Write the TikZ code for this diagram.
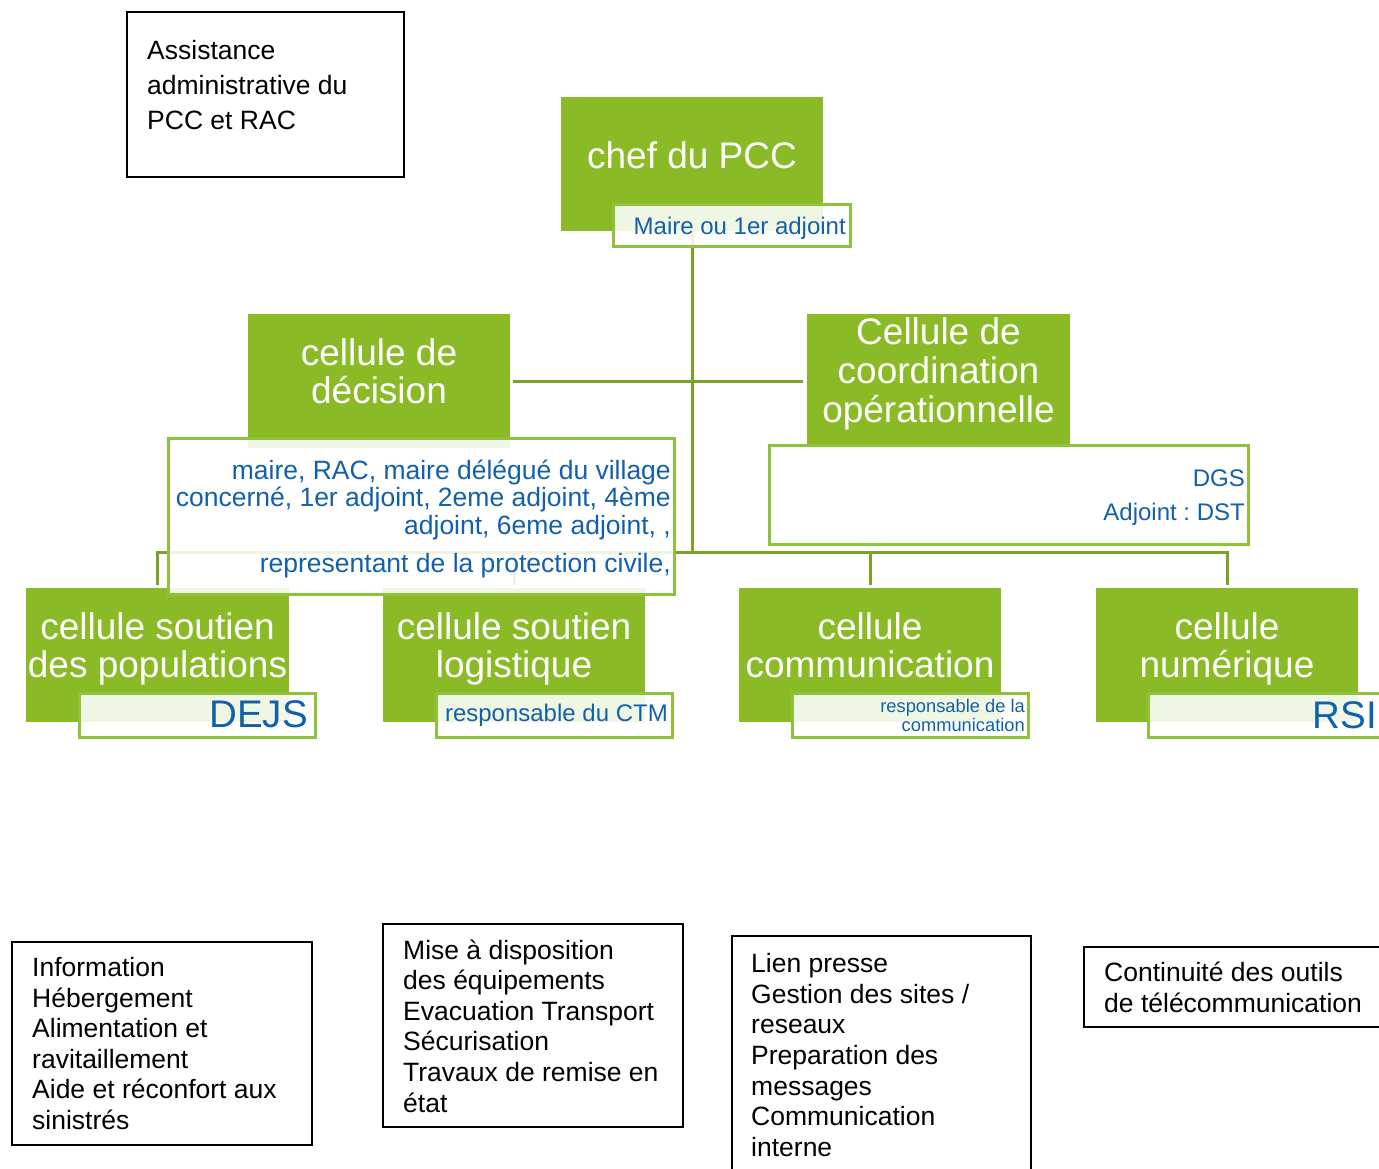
\documentclass[tikz,border=0pt]{standalone}
\usepackage{fontspec}
\setmainfont{Liberation Sans}
\frenchspacing
\definecolor{pccgreen}{RGB}{138,187,38}
\definecolor{conngreen}{RGB}{120,162,40}
\definecolor{lblgreen}{RGB}{141,194,58}
\definecolor{lblblue}{RGB}{17,96,172}
\tikzset{
  blk/.style={fill=pccgreen, inner sep=0, minimum width=262, minimum height=134},
  wtext/.style={text=white, align=center, inner sep=0, font=\fontsize{37}{38}\selectfont},
  lbl/.style={draw=lblgreen, line width=3, fill=white, fill opacity=0.88, inner sep=0},
  btext/.style={text=lblblue, align=right, inner sep=0, anchor=east},
  conn/.style={draw=conngreen, line width=3},
  bbox/.style={draw=black, line width=2, fill=white, inner sep=0},
  ktext/.style={align=left, inner sep=0, anchor=west, font=\fontsize{26.5}{30.6}\selectfont},
}
\begin{document}
\begin{tikzpicture}[x=1pt,y=-1pt]
\useasboundingbox (0,0) rectangle (1379,1168);
% green blocks
\node[blk] (chef) at (692,164) {};
\node[blk] (dec) at (379,381) {};
\node[blk, minimum width=263] (coord) at (938.5,381) {};
\node[blk, minimum width=263] (pop) at (157.5,655) {};
\node[blk] (log) at (514,655) {};
\node[blk] (comm) at (870,655) {};
\node[blk] (num) at (1227,655) {};
% connectors
\coordinate (hub) at (692,552);
\coordinate (hmid) at (692,381);
\draw[conn] (chef.south) -- (hub);
\draw[conn, shorten <=3, shorten >=4] (dec.east |- hmid) -- (coord.west |- hmid);
\draw[conn, shorten >=3] (hub) -| (pop.north);
\draw[conn, shorten >=3] (hub) -| (log.north);
\draw[conn, shorten >=3] (hub) -| (comm.north);
\draw[conn, shorten >=3] (hub) -| (num.north);
% block texts
\node[wtext] (chefT) at (692,155) {chef du PCC};
\node[wtext] (decT) at (379,371.5) {cellule de\\décision};
\node[wtext, font=\fontsize{37}{39}\selectfont] (coordT) at (938.5,374) {Cellule de\\coordination\\opérationnelle};
\node[wtext] (popT) at (157.5,649) {cellule soutien\\des populations};
\node[wtext] (logT) at (514,649) {cellule soutien\\logistique};
\node[wtext] (commT) at (870,645) {cellule\\communication};
\node[wtext] (numT) at (1227,649) {cellule\\numérique};
% label boxes
\node[lbl, minimum width=237, minimum height=42] (chefL) at (732,225.5) {};
\node[lbl, minimum width=506, minimum height=156] (decL) at (421.5,516.5) {};
\node[lbl, minimum width=479, minimum height=99] (coordL) at (1009,495) {};
\node[lbl, minimum width=236, minimum height=44] (popL) at (197.5,715.5) {};
\node[lbl, minimum width=236, minimum height=44] (logL) at (554,715.5) {};
\node[lbl, minimum width=236, minimum height=44] (commL) at (910.5,715.5) {};
\node[lbl, minimum width=236, minimum height=44] (numL) at (1266.5,715.5) {};
% label texts
\node[btext, font=\fontsize{24}{26}\selectfont] (chefLT) at (846,228) {Maire ou 1er adjoint};
\node[btext, font=\fontsize{26.5}{27.5}\selectfont] (decLT) at (671,518.5)
  {maire, RAC, maire délégué du village\\concerné, 1er adjoint, 2eme adjoint, 4ème\\adjoint, 6eme adjoint, ,\\[10.5pt]representant de la protection civile,};
\node[btext, font=\fontsize{24}{34}\selectfont] (coordLT) at (1245,498) {DGS\\Adjoint : DST};
\node[btext, font=\fontsize{38.5}{40}\selectfont] (popLT) at (308,714.5) {DEJS};
\node[btext, font=\fontsize{24}{26}\selectfont] (logLT) at (668,715.5) {responsable du CTM};
\node[btext, font=\fontsize{18.3}{19}\selectfont] (commLT) at (1025,715.5) {responsable de la\\communication};
\node[btext, font=\fontsize{38.5}{40}\selectfont] (numLT) at (1377,715.5) {RSI};
% black boxes
\node[bbox, minimum width=277, minimum height=165] (assist) at (265.5,94.5) {};
\node[ktext, font=\fontsize{26.5}{35}\selectfont] (assistT) at (147,85.5)
  {Assistance\\administrative du\\PCC et RAC};
\node[bbox, minimum width=300, minimum height=203] (boxA) at (162,1043.5) {};
\node[ktext] (boxAT) at (32,1043.5)
  {Information\\Hébergement\\Alimentation et\\ravitaillement\\Aide et réconfort aux\\sinistrés};
\node[bbox, minimum width=300, minimum height=203] (boxB) at (533,1025.5) {};
\node[ktext] (boxBT) at (403,1026)
  {Mise à disposition\\des équipements\\Evacuation Transport\\Sécurisation\\Travaux de remise en\\état};
\node[bbox, minimum width=299, minimum height=238] (boxC) at (881.5,1055) {};
\node[ktext] (boxCT) at (751,1055)
  {Lien presse\\Gestion des sites /\\reseaux\\Preparation des\\messages\\Communication\\interne};
\node[bbox, minimum width=302, minimum height=80] (boxD) at (1235,987) {};
\node[ktext] (boxDT) at (1104,987.5)
  {Continuité des outils\\de télécommunication};
\end{tikzpicture}
\end{document}
